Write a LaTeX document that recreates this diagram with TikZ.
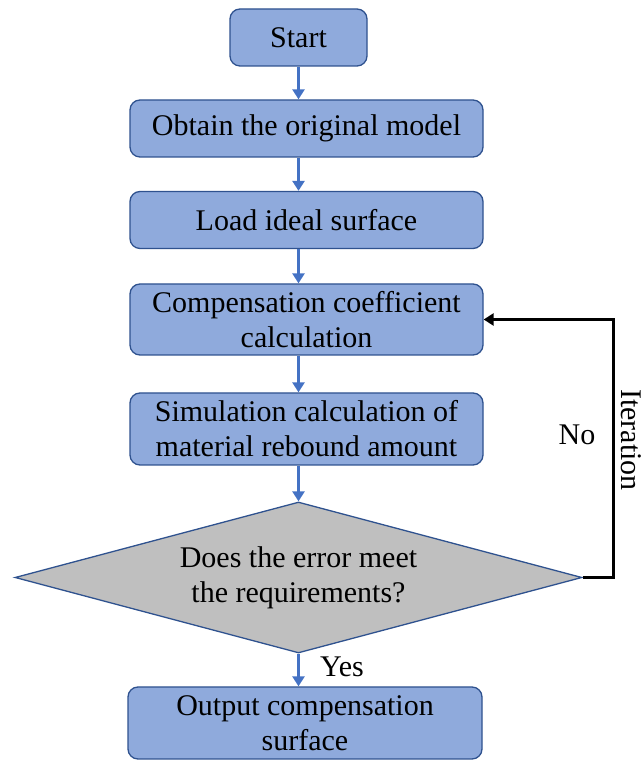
\documentclass[tikz,border=0pt]{standalone}
\usepackage{fontspec}
\setmainfont{Liberation Serif}
\usetikzlibrary{shapes.geometric,arrows.meta}
\definecolor{boxfill}{HTML}{8FAADC}
\definecolor{boxline}{HTML}{2F528F}
\definecolor{arrowblue}{HTML}{4472C4}
\definecolor{diafill}{HTML}{BFBFBF}
\begin{document}
\begin{tikzpicture}[x=1pt,y=1pt,
  font=\fontsize{30}{35}\selectfont,
  stepbox/.style={draw=boxline, line width=1.3pt, fill=boxfill, rounded corners=10pt,
     align=center, inner sep=0pt, minimum height=57pt},
  flow/.style={arrowblue, line width=3pt, -{Triangle[width=12pt,length=10pt]}},
  back/.style={black, line width=3pt, -{Triangle[width=12pt,length=10pt]}}]
\useasboundingbox (0,0) rectangle (644,760);
\node[stepbox, minimum width=137pt] (start) at (298.5,{760-37.5}) {Start};
\node[stepbox, minimum width=353pt] (obtain) at (306.5,{760-128.5}) {Obtain the original model};
\node[stepbox, minimum width=353pt] (load) at (306.5,{760-220}) {Load ideal surface};
\node[stepbox, minimum width=353pt, minimum height=71pt] (comp) at (306.5,{760-319.5}) {Compensation coefficient\\calculation};
\node[stepbox, minimum width=353pt, minimum height=72pt] (sim) at (306.5,{760-429}) {Simulation calculation of\\material rebound amount};
\node[draw=boxline, line width=1.3pt, fill=diafill, shape=diamond, aspect=3.75,
      minimum width=567pt, minimum height=151pt, inner sep=0pt, align=center] (dec) at (298.5,{760-577.5}) {Does the error meet\\the requirements?};
\node[stepbox, minimum width=354pt, minimum height=72pt] (out) at (305,{760-723}) {Output compensation\\surface};
\coordinate (corner) at (613,{760-577.5});
\draw[flow] (start.south) -- (obtain.north -| start.south);
\draw[flow] (obtain.south -| start.south) -- (load.north -| start.south);
\draw[flow] (load.south -| start.south) -- (comp.north -| start.south);
\draw[flow] (comp.south -| start.south) -- (sim.north -| start.south);
\draw[flow] (sim.south -| start.south) -- (dec.north);
\draw[flow] (dec.south) -- (out.north -| dec.south);
\draw[back] (dec.east) -- (corner) |- (comp.east);
\node (no) at (577,{760-435}) {No};
\node[rotate=-90, inner sep=1pt] (iter) at (631,{760-440}) {Iteration};
\node (yes) at (342,{760-667}) {Yes};
\end{tikzpicture}
\end{document}
